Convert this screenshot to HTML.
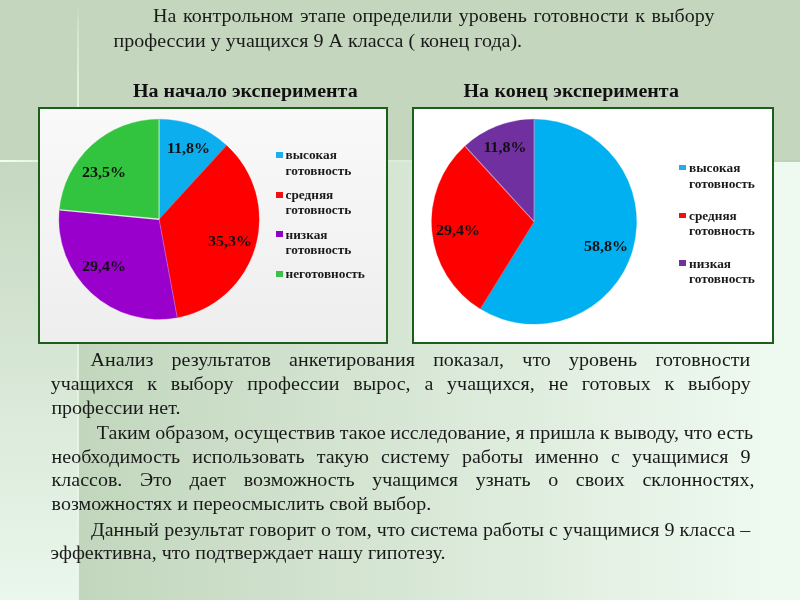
<!DOCTYPE html>
<html lang="ru"><head><meta charset="utf-8"><title>slide</title>
<style>
html,body{margin:0;padding:0;}
body{width:800px;height:600px;overflow:hidden;position:relative;background:#c4d6bd;font-family:"Liberation Serif",serif;color:#1a1a1a;}
.abs{position:absolute;}
#main{left:79px;top:162px;width:721px;height:438px;background:linear-gradient(to right,#c2d6bd 0%,#eef9ef 95%,#eef9ef 100%);}
#left{left:0;top:162px;width:78px;height:438px;background:linear-gradient(to bottom,#c6d8c1 0%,#eaf7ec 100%);}
#hline{left:0;top:160px;width:800px;height:2px;background:linear-gradient(to right,#f6fff2 0%,#e2f6d4 5%,#dcedd6 50%,#bcd1b6 100%);}
#vline{left:77px;top:0;width:2px;height:162px;background:linear-gradient(to bottom,rgba(232,248,224,0) 2%,rgba(232,248,224,0.45) 20%,rgba(232,248,224,0.8) 50%,rgba(232,248,224,1) 100%);}
#vline2{left:77px;top:162px;width:2px;height:438px;background:linear-gradient(to bottom,rgba(226,242,220,0.9),rgba(236,248,236,0.9));}
.t{position:absolute;white-space:nowrap;font-size:20px;line-height:24px;transform:scaleY(0.912);transform-origin:0 18.75px;}
.j{text-align:justify;text-align-last:justify;}
.h{font-weight:bold;font-size:20px;color:#111;}
#c1{left:38px;top:107px;width:345.6px;height:233px;border:2px solid #1e5e1c;background:linear-gradient(to bottom,#f9f9f9,#eeeeee);}
#c2{left:412px;top:107px;width:358px;height:233px;border:2px solid #1e5e1c;background:#fff;}
.lg{position:absolute;font-weight:bold;font-size:13.3px;line-height:15.3px;color:#1a1a1a;white-space:nowrap;}
.mk{position:absolute;}
.dl{position:absolute;font-weight:bold;font-size:16px;line-height:16px;color:#111;white-space:nowrap;transform:scaleY(0.93);transform-origin:0 13.5px;}
</style></head><body>
<div class="abs" id="left"></div>
<div class="abs" id="main"></div>
<div class="abs" id="hline"></div>
<div class="abs" id="vline"></div>
<div class="abs" id="vline2"></div>

<div class="abs" id="c1"></div>
<div class="abs" id="c2"></div>
<svg class="abs" style="left:0;top:0" width="800" height="600" viewBox="0 0 800 600">
<path d="M159.10,219.25 L159.10,119.25 A100,100 0 0 1 226.63,145.50 Z" fill="#0CAEEE" stroke="#0CAEEE" stroke-width="0.4"/>
<path d="M159.10,219.25 L226.63,145.50 A100,100 0 0 1 177.22,317.59 Z" fill="#FE0000" stroke="#FE0000" stroke-width="0.4"/>
<path d="M159.10,219.25 L177.22,317.59 A100,100 0 0 1 59.54,209.84 Z" fill="#9900CC" stroke="#9900CC" stroke-width="0.4"/>
<path d="M159.10,219.25 L59.54,209.84 A100,100 0 0 1 159.10,119.25 Z" fill="#33C43F" stroke="#33C43F" stroke-width="0.4"/>
<line x1="159.10" y1="219.25" x2="159.10" y2="119.25" stroke="#fff" stroke-opacity="0.6" stroke-width="1.2"/>
<line x1="159.10" y1="219.25" x2="226.63" y2="145.50" stroke="#fff" stroke-opacity="0.12" stroke-width="1"/>
<line x1="159.10" y1="219.25" x2="177.22" y2="317.59" stroke="#fff" stroke-opacity="0.28" stroke-width="1"/>
<line x1="159.10" y1="219.25" x2="59.54" y2="209.84" stroke="#fff" stroke-opacity="0.8" stroke-width="1.3"/>
<path d="M534.10,221.70 L534.10,119.30 A102.4,102.4 0 1 1 480.32,308.84 Z" fill="#00B0F0" stroke="#00B0F0" stroke-width="0.4"/>
<path d="M534.10,221.70 L480.32,308.84 A102.4,102.4 0 0 1 464.95,146.18 Z" fill="#FE0000" stroke="#FE0000" stroke-width="0.4"/>
<path d="M534.10,221.70 L464.95,146.18 A102.4,102.4 0 0 1 534.10,119.30 Z" fill="#7030A0" stroke="#7030A0" stroke-width="0.4"/>
<line x1="534.10" y1="221.70" x2="534.10" y2="119.30" stroke="#fff" stroke-opacity="0.4" stroke-width="1.1"/>
<line x1="534.10" y1="221.70" x2="480.32" y2="308.84" stroke="#fff" stroke-opacity="0.15" stroke-width="1"/>
<line x1="534.10" y1="221.70" x2="464.95" y2="146.18" stroke="#fff" stroke-opacity="0.45" stroke-width="1.1"/>
</svg>

<div id="txt" class="abs" style="left:0;top:0;width:800px;height:600px;will-change:transform;">
<!-- legend 1 -->
<div class="mk" style="left:275.5px;top:152.2px;width:7px;height:6px;background:#1eaeea"></div>
<div class="lg" style="left:285.5px;top:147.4px;">высокая<br>готовность</div>
<div class="mk" style="left:275.5px;top:191.7px;width:7px;height:6px;background:#f01010"></div>
<div class="lg" style="left:285.5px;top:187px;">средняя<br>готовность</div>
<div class="mk" style="left:275.5px;top:231.3px;width:7px;height:6px;background:#9400c8"></div>
<div class="lg" style="left:285.5px;top:227px;">низкая<br>готовность</div>
<div class="mk" style="left:275.5px;top:271.3px;width:7px;height:6px;background:#3cc24a"></div>
<div class="lg" style="left:285.5px;top:266px;">неготовность</div>

<!-- legend 2 -->
<div class="mk" style="left:679px;top:164.5px;width:6.5px;height:5.6px;background:#1eaeea"></div>
<div class="lg" style="left:689px;top:160.3px;">высокая<br>готовность</div>
<div class="mk" style="left:679px;top:212.6px;width:6.5px;height:5.6px;background:#f01010"></div>
<div class="lg" style="left:689px;top:207.6px;">средняя<br>готовность</div>
<div class="mk" style="left:679px;top:260.3px;width:6.5px;height:5.6px;background:#7030a0"></div>
<div class="lg" style="left:689px;top:256px;">низкая<br>готовность</div>

<!-- data labels 1 -->
<div class="dl" style="left:167px;top:139.5px;">11,8%</div>
<div class="dl" style="left:208px;top:232.5px;">35,3%</div>
<div class="dl" style="left:82px;top:257.5px;">29,4%</div>
<div class="dl" style="left:82px;top:164px;">23,5%</div>
<!-- data labels 2 -->
<div class="dl" style="left:584px;top:238px;">58,8%</div>
<div class="dl" style="left:436px;top:221.5px;">29,4%</div>
<div class="dl" style="left:483.5px;top:138.5px;">11,8%</div>

<div class="t" style="left:153px;top:3px;word-spacing:1.71px;">На контрольном этапе определили уровень готовности к выбору</div>
<div class="t" style="left:113.5px;top:27.65px;word-spacing:0.06px;">профессии у учащихся 9 А класса ( конец года).</div>
<div class="t h" style="left:133px;top:78.2px;">На начало эксперимента</div>
<div class="t h" style="left:463.5px;top:78.2px;word-spacing:0.5px;">На конец эксперимента</div>

<!-- body text -->
<div class="t" style="left:90.5px;top:347.3px;word-spacing:13.25px;">Анализ результатов анкетирования показал, что уровень готовности</div>
<div class="t" style="left:50.8px;top:371.2px;word-spacing:8.82px;">учащихся к выбору профессии вырос, а учащихся, не готовых к выбору</div>
<div class="t" style="left:51.4px;top:395px;">профессии нет.</div>
<div class="t" style="left:96.8px;top:419.8px;word-spacing:-0.28px;">Таким образом, осуществив такое исследование, я пришла к выводу, что есть</div>
<div class="t" style="left:51.6px;top:443.5px;word-spacing:7.17px;">необходимость использовать такую систему работы именно с учащимися 9</div>
<div class="t" style="left:51.6px;top:467.4px;word-spacing:12.67px;">классов. Это дает возможность учащимся узнать о своих склонностях,</div>
<div class="t" style="left:51.6px;top:491.2px;">возможностях и переосмыслить свой выбор.</div>
<div class="t" style="left:91px;top:517.3px;word-spacing:0.08px;">Данный результат говорит о том, что система работы с учащимися 9 класса –</div>
<div class="t" style="left:50.6px;top:540px;word-spacing:0px;">эффективна, что подтверждает нашу гипотезу.</div>
</div>
</body></html>
